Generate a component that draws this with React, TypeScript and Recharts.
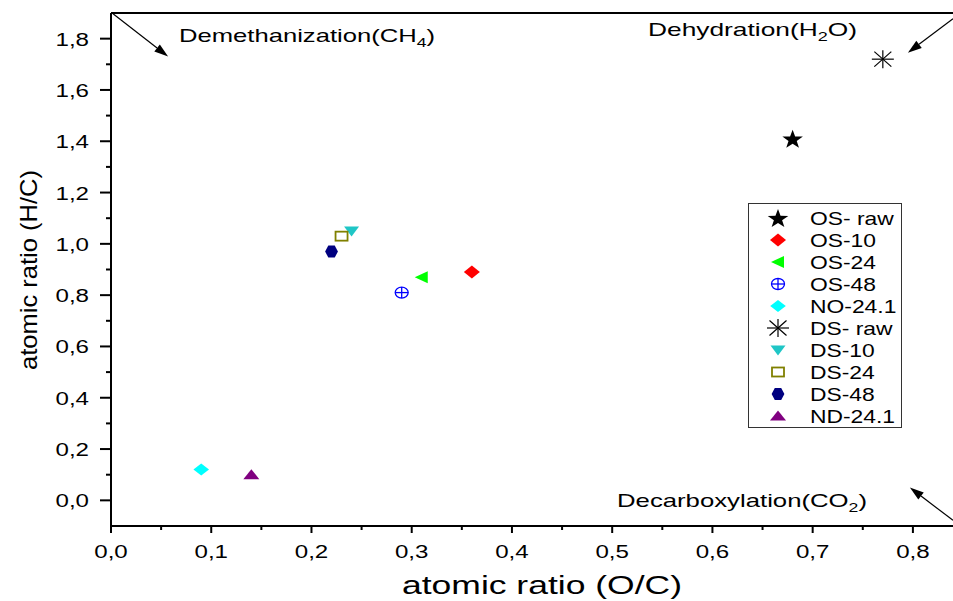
import React from 'react';
import { ScatterChart, Scatter, XAxis, YAxis, ReferenceLine, Legend } from 'recharts';

// ---------- data ----------
const seriesNames = ['OS- raw', 'OS-10', 'OS-24', 'OS-48', 'NO-24.1', 'DS- raw', 'DS-10', 'DS-24', 'DS-48', 'ND-24.1'];
const ocValues = [0.68, 0.36, 0.31, 0.29, 0.09, 0.77, 0.24, 0.23, 0.22, 0.14];
const hcValues = [1.41, 0.89, 0.87, 0.81, 0.12, 1.72, 1.05, 1.03, 0.97, 0.10];
const markerKinds = ['star', 'diamond', 'leftTriangle', 'circlePlus', 'smallDiamond', 'asterisk', 'downTriangle', 'openSquare', 'hexagon', 'upTriangle'];
const markerColors = ['#000000', '#FF0000', '#00FF00', '#0000FF', '#00FFFF', '#000000', '#1FC6C6', '#808000', '#000080', '#800080'];

const xTicks = [0, 0.05, 0.1, 0.15, 0.2, 0.25, 0.3, 0.35, 0.4, 0.45, 0.5, 0.55, 0.6, 0.65, 0.7, 0.75, 0.8];
const yTicks = [0, 0.1, 0.2, 0.3, 0.4, 0.5, 0.6, 0.7, 0.8, 0.9, 1.0, 1.1, 1.2, 1.3, 1.4, 1.5, 1.6, 1.7, 1.8];
const xDomain = [0, 0.84];
const yDomain = [-0.1, 1.9];

// arrows: [tailX, tailY, headX, headY] in data units
const arrowDemethanization = [0.002, 1.897, 0.057, 1.73];
const arrowDehydration = [0.84, 1.878, 0.795, 1.745];
const arrowDecarboxylation = [0.84, -0.078, 0.797, 0.05];
const arrows = [arrowDemethanization, arrowDehydration, arrowDecarboxylation];

const fontFamily = '"Liberation Sans", Arial, Helvetica, sans-serif';
const STRETCH = 1.27;

const fmt = (v: number) => v.toFixed(1).replace('.', ',');

// ---------- markers ----------
function Marker({ kind, color, cx, cy }: { kind: string; color: string; cx: number; cy: number }) {
  switch (kind) {
    case 'star': {
      const pts: string[] = [];
      for (let i = 0; i < 10; i++) {
        const r = i % 2 === 0 ? 10 : 4;
        const a = -Math.PI / 2 + (i * Math.PI) / 5;
        pts.push(`${cx + r * Math.cos(a) * 1.08},${cy + 1 + r * Math.sin(a)}`);
      }
      return <polygon points={pts.join(' ')} fill={color} />;
    }
    case 'diamond':
      return <polygon points={`${cx - 8},${cy} ${cx},${cy - 6.5} ${cx + 8},${cy} ${cx},${cy + 6.5}`} fill={color} />;
    case 'smallDiamond':
      return <polygon points={`${cx - 7.8},${cy} ${cx},${cy - 6} ${cx + 7.8},${cy} ${cx},${cy + 6}`} fill={color} />;
    case 'leftTriangle':
      return <polygon points={`${cx - 7},${cy} ${cx + 6},${cy - 6} ${cx + 6},${cy + 6}`} fill={color} />;
    case 'circlePlus':
      return (
        <g stroke={color} strokeWidth={1.3} fill="none">
          <ellipse cx={cx} cy={cy} rx={6.5} ry={5.5} />
          <line x1={cx - 6.5} y1={cy} x2={cx + 6.5} y2={cy} />
          <line x1={cx} y1={cy - 5.5} x2={cx} y2={cy + 5.5} />
        </g>
      );
    case 'asterisk':
      return (
        <g stroke={color} strokeWidth={1.2}>
          <line x1={cx - 11} y1={cy} x2={cx + 11} y2={cy} />
          <line x1={cx} y1={cy - 9} x2={cx} y2={cy + 9} />
          <line x1={cx - 8.5} y1={cy - 7.5} x2={cx + 8.5} y2={cy + 7.5} />
          <line x1={cx - 8.5} y1={cy + 7.5} x2={cx + 8.5} y2={cy - 7.5} />
        </g>
      );
    case 'downTriangle':
      return <polygon points={`${cx - 7.5},${cy - 4.5} ${cx + 7.5},${cy - 4.5} ${cx},${cy + 5.5}`} fill={color} />;
    case 'openSquare':
      return <rect x={cx - 6} y={cy - 4.5} width={12} height={9} fill="none" stroke={color} strokeWidth={1.8} />;
    case 'hexagon':
      return (
        <polygon
          points={`${cx - 3.2},${cy - 6} ${cx + 3.2},${cy - 6} ${cx + 6.4},${cy} ${cx + 3.2},${cy + 6} ${cx - 3.2},${cy + 6} ${cx - 6.4},${cy}`}
          fill={color}
        />
      );
    case 'upTriangle':
      return <polygon points={`${cx},${cy - 5.5} ${cx + 8},${cy + 4.5} ${cx - 8},${cy + 4.5}`} fill={color} />;
    default:
      return <circle cx={cx} cy={cy} r={5} fill={color} />;
  }
}

// ---------- ticks ----------
const XTick = (props: any) => {
  const { x, y, payload } = props;
  const v = Number(payload.value);
  const major = Math.round(v * 100) % 10 === 0;
  return (
    <g>
      <line x1={x} y1={y} x2={x} y2={y + (major ? 7 : 4)} stroke="#000" strokeWidth={2} />
      {major && (
        <g transform={`translate(${x},${y + 32}) scale(${STRETCH},1)`}>
          <text x={0} y={0} textAnchor="middle" fontSize={19} fontFamily={fontFamily} fill="#000">
            {fmt(v)}
          </text>
        </g>
      )}
    </g>
  );
};

const YTick = (props: any) => {
  const { x, y, payload } = props;
  const v = Number(payload.value);
  const major = Math.round(v * 10) % 2 === 0;
  return (
    <g>
      <line x1={x} y1={y} x2={x - (major ? 11 : 5)} y2={y} stroke="#000" strokeWidth={2} />
      {major && (
        <g transform={`translate(${x - 22},${y + 7}) scale(${STRETCH},1)`}>
          <text x={0} y={0} textAnchor="end" fontSize={19} fontFamily={fontFamily} fill="#000">
            {fmt(v)}
          </text>
        </g>
      )}
    </g>
  );
};

// ---------- arrow shape ----------
const ArrowShape = (props: any) => {
  const { x1, y1, x2, y2 } = props;
  if ([x1, y1, x2, y2].some((n) => typeof n !== 'number' || isNaN(n))) return null;
  const dx = x2 - x1;
  const dy = y2 - y1;
  const len = Math.sqrt(dx * dx + dy * dy) || 1;
  const ux = dx / len;
  const uy = dy / len;
  const hl = 14;
  const hw = 4.5;
  const bx = x2 - ux * hl;
  const by = y2 - uy * hl;
  const p1 = `${bx - uy * hw},${by + ux * hw}`;
  const p2 = `${bx + uy * hw},${by - ux * hw}`;
  return (
    <g>
      <line x1={x1} y1={y1} x2={bx} y2={by} stroke="#000" strokeWidth={1.2} />
      <polygon points={`${x2},${y2} ${p1} ${p2}`} fill="#000" />
    </g>
  );
};

// ---------- legend ----------
const LegendBox = () => (
  <svg width={155} height={226} style={{ display: 'block' }}>
    <rect x={0.5} y={0.5} width={153} height={224} fill="#fff" stroke="#333" strokeWidth={1} />
    {seriesNames.map((n, i) => (
      <g key={n}>
        <Marker kind={markerKinds[i]} color={markerColors[i]} cx={30} cy={15 + i * 22} />
        <g transform={`translate(62, ${15 + i * 22 + 6.5}) scale(${STRETCH},1)`}>
          <text x={0} y={0} fontSize={18} fontFamily={fontFamily} fill="#000">
            {n}
          </text>
        </g>
      </g>
    ))}
  </svg>
);

export default function App() {
  return (
    <div style={{ position: 'absolute', left: 0, top: 0, width: 953, height: 601, background: '#fff' }}>
      <ScatterChart width={953} height={601} margin={{ top: 13, right: 0, bottom: 0, left: 0 }}>
        <XAxis
          type="number"
          dataKey="x"
          domain={xDomain}
          ticks={xTicks}
          interval={0}
          allowDataOverflow
          height={75}
          tickSize={0}
          tickMargin={0}
          tickLine={false}
          tick={<XTick />}
          axisLine={{ stroke: '#000', strokeWidth: 2 }}
        />
        <YAxis
          type="number"
          dataKey="y"
          domain={yDomain}
          ticks={yTicks}
          interval={0}
          allowDataOverflow
          width={111}
          tickSize={0}
          tickMargin={0}
          tickLine={false}
          tick={<YTick />}
          axisLine={{ stroke: '#000', strokeWidth: 2 }}
        />
        <ReferenceLine y={1.9} stroke="#000" strokeWidth={2} ifOverflow="visible" />
        {arrows.map((a, i) => (
          <ReferenceLine
            key={'arrow' + i}
            segment={[
              { x: a[0], y: a[1] },
              { x: a[2], y: a[3] },
            ]}
            ifOverflow="visible"
            shape={<ArrowShape />}
          />
        ))}
        {seriesNames.map((name, i) => (
          <Scatter
            key={name}
            name={name}
            data={[{ x: ocValues[i], y: hcValues[i] }]}
            fill={markerColors[i]}
            isAnimationActive={false}
            shape={(p: any) => <Marker kind={markerKinds[i]} color={markerColors[i]} cx={p.cx} cy={p.cy} />}
          />
        ))}
        <Legend
          layout="horizontal"
          align="center"
          verticalAlign="middle"
          content={() => <LegendBox />}
          wrapperStyle={{ position: 'absolute', left: 748, top: 203, width: 155, height: 226, margin: 0, padding: 0 }}
        />
      </ScatterChart>
      <svg width={953} height={601} style={{ position: 'absolute', left: 0, top: 0, pointerEvents: 'none' }}>
        <g fontFamily={fontFamily} fill="#000">
          <text x={179} y={42} fontSize={19} textLength={256} lengthAdjust="spacingAndGlyphs">
            Demethanization(CH<tspan fontSize={13} dy={5}>4</tspan>
            <tspan dy={-5}>)</tspan>
          </text>
          <text x={648} y={36} fontSize={19} textLength={209} lengthAdjust="spacingAndGlyphs">
            Dehydration(H<tspan fontSize={13} dy={5}>2</tspan>
            <tspan dy={-5}>O)</tspan>
          </text>
          <text x={617} y={507} fontSize={19} textLength={250} lengthAdjust="spacingAndGlyphs">
            Decarboxylation(CO<tspan fontSize={13} dy={5}>2</tspan>
            <tspan dy={-5}>)</tspan>
          </text>
          <text x={402} y={594} fontSize={25} textLength={280} lengthAdjust="spacingAndGlyphs">
            atomic ratio (O/C)
          </text>
          <g transform="translate(37,270) rotate(-90)">
            <text x={0} y={0} fontSize={24} textAnchor="middle" textLength={200} lengthAdjust="spacingAndGlyphs">
              atomic ratio (H/C)
            </text>
          </g>
        </g>
      </svg>
    </div>
  );
}
